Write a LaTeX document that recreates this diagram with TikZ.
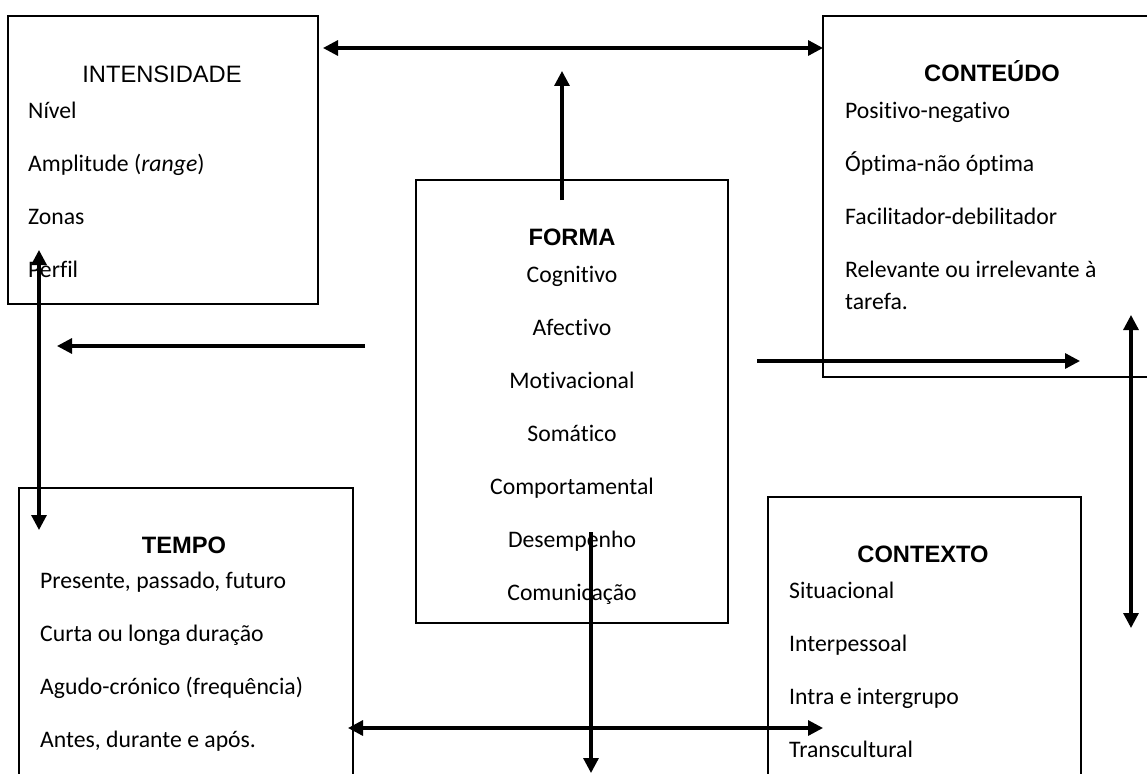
\documentclass[tikz,border=0pt]{standalone}
\usepackage{fontspec}
\setmainfont{Carlito}[Ligatures = NoCommon]
\newfontfamily\headfont{Liberation Sans}
\usetikzlibrary{arrows.meta,positioning}

\begin{document}
\begin{tikzpicture}[
        x = 1pt, y = -1pt, % one unit per pixel, y going down
        > = {Triangle[length=15pt,width=15pt]}, % arrow head style
        link/.style = {line width = 3.2pt}, % arrow line style
        box/.style = {draw = black, line width = 1.6pt, anchor = north west,
                      inner sep = 0pt, outer sep = 0pt}
        ]

        \tikzset{
        head/.style = {font = \headfont\fontsize{23.7}{28}\selectfont,
                       anchor = base, inner sep = 0pt},
        item/.style = {font = \fontsize{23.7}{28}\selectfont, inner sep = 0pt},
        nextleft/.style = {below = #1.base west, anchor = base west},
        nextmid/.style = {below = #1.base, anchor = base}
        }

        \fill[white] (0,0) rectangle (1147,773);
        \useasboundingbox (0,0) rectangle (1147,773);
        \clip (0,0) rectangle (1147,773);

        % the five boxes
        \node[box, minimum width = 310pt, minimum height = 288pt] (intensidade) at (8,16) {};
        \node[box, minimum width = 338pt, minimum height = 361pt] (conteudo) at (823,16) {};
        \node[box, minimum width = 312pt, minimum height = 443pt] (forma) at (416,180) {};
        \node[box, minimum width = 334pt, minimum height = 320pt] (tempo) at (19,488) {};
        \node[box, minimum width = 313pt, minimum height = 320pt] (contexto) at (768,497) {};

        % INTENSIDADE
        \node[head] (hint) at (162,83) {INTENSIDADE};
        \node[item, anchor = base west] (int1) at (28,118) {Nível};
        \node[item, nextleft = 53pt of int1] (int2) {Amplitude (\textit{range})};
        \node[item, nextleft = 53pt of int2] (int3) {Zonas};
        \node[item, nextleft = 53pt of int3] (int4) {Perfil};

        % CONTEUDO
        \node[head] (hcon) at (992,82) {\bfseries CONTEÚDO};
        \node[item, anchor = base west] (con1) at (845,118) {Positivo-negativo};
        \node[item, nextleft = 53pt of con1] (con2) {Óptima-não óptima};
        \node[item, nextleft = 53pt of con2] (con3) {Facilitador-debilitador};
        \node[item, nextleft = 53pt of con3] (con4) {Relevante ou irrelevante à};
        \node[item, nextleft = 32pt of con4] (con5) {tarefa.};

        % FORMA
        \node[head] (hfor) at (572,245) {\bfseries FORMA};
        \node[item, anchor = base] (for1) at (572,282) {Cognitivo};
        \node[item, nextmid = 53pt of for1] (for2) {Afectivo};
        \node[item, nextmid = 53pt of for2] (for3) {Motivacional};
        \node[item, nextmid = 53pt of for3] (for4) {Somático};
        \node[item, nextmid = 53pt of for4] (for5) {Comportamental};
        \node[item, nextmid = 53pt of for5] (for6) {Desempenho};
        \node[item, nextmid = 53pt of for6] (for7) {Comunicação};

        % TEMPO
        \node[head] (htem) at (184,553) {\bfseries TEMPO};
        \node[item, anchor = base west] (tem1) at (40,588) {Presente, passado, futuro};
        \node[item, nextleft = 53pt of tem1] (tem2) {Curta ou longa duração};
        \node[item, nextleft = 53pt of tem2] (tem3) {Agudo-crónico (frequência)};
        \node[item, nextleft = 53pt of tem3] (tem4) {Antes, durante e após.};

        % CONTEXTO
        \node[head] (hctx) at (923,562) {\bfseries CONTEXTO};
        \node[item, anchor = base west] (ctx1) at (789,598) {Situacional};
        \node[item, nextleft = 53pt of ctx1] (ctx2) {Interpessoal};
        \node[item, nextleft = 53pt of ctx2] (ctx3) {Intra e intergrupo};
        \node[item, nextleft = 53pt of ctx3] (ctx4) {Transcultural};

        % arrow ends
        \coordinate (topl) at (323,48);
        \coordinate (topr) at (823,48);
        \coordinate (upa) at (562,200);
        \coordinate (upb) at (562,71);
        \coordinate (lefta) at (365,346);
        \coordinate (leftb) at (57,346);
        \coordinate (righta) at (757,361);
        \coordinate (rightb) at (1080,361);
        \coordinate (sidet) at (1131,315);
        \coordinate (sideb) at (1131,628);
        \coordinate (vertt) at (39,250);
        \coordinate (vertb) at (39,530);
        \coordinate (botl) at (348,728);
        \coordinate (botr) at (823,728);
        \coordinate (downa) at (591,532);
        \coordinate (downb) at (591,773);

        \draw[link, <->] (topl) -- (topr);
        \draw[link, ->] (upa) -- (upb);
        \draw[link, ->] (lefta) -- (leftb);
        \draw[link, ->] (righta) -- (rightb);
        \draw[link, <->] (sidet) -- (sideb);
        \draw[link, <->] (vertt) -- (vertb);
        \draw[link, <->] (botl) -- (botr);
        \draw[link, ->] (downa) -- (downb);

\end{tikzpicture}
\end{document}
